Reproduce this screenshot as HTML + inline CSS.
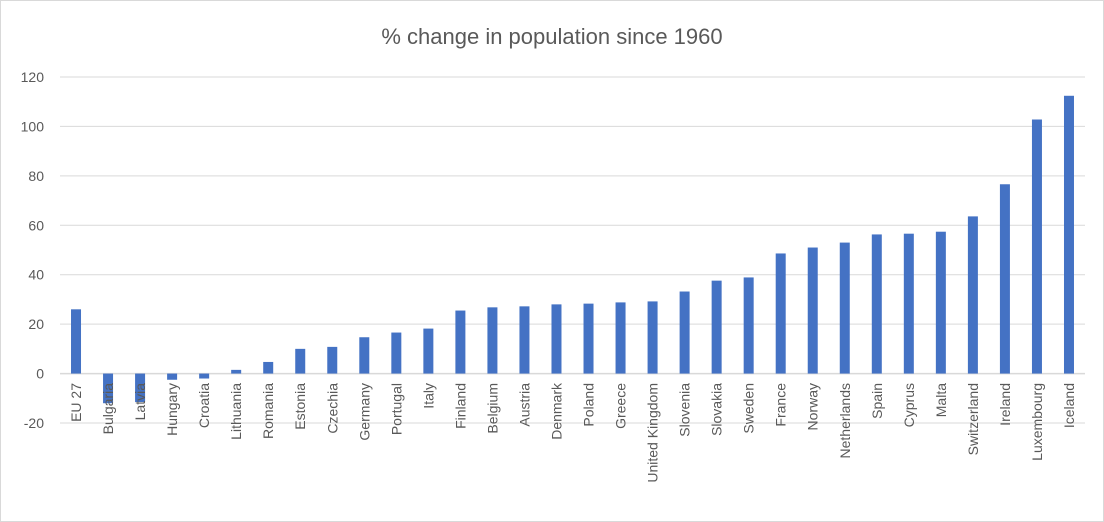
<!DOCTYPE html>
<html><head><meta charset="utf-8"><style>
body{margin:0;background:#fff}
svg{display:block;font-family:"Liberation Sans",sans-serif}
</style></head><body>
<svg id="c" width="1104" height="522">
<rect x="0.5" y="0.5" width="1103" height="521" fill="#fff" stroke="#d9d9d9"/>
<text x="552" y="44" text-anchor="middle" font-size="22" fill="#595959">% change in population since 1960</text>
<g id="grid"></g><g id="bars"></g><g id="labels"></g>
</svg>
<script>
const categories=["EU 27","Bulgaria","Latvia","Hungary","Croatia","Lithuania","Romania","Estonia","Czechia","Germany","Portugal","Italy","Finland","Belgium","Austria","Denmark","Poland","Greece","United Kingdom","Slovenia","Slovakia","Sweden","France","Norway","Netherlands","Spain","Cyprus","Malta","Switzerland","Ireland","Luxembourg","Iceland"];
const values=[26,-12,-11.5,-2.5,-2,1.5,4.7,10,10.8,14.7,16.6,18.2,25.5,26.8,27.2,28,28.3,28.8,29.2,33.2,37.6,38.9,48.6,51,53,56.3,56.6,57.4,63.6,76.6,102.8,112.4];
const ticks=[-20,0,20,40,60,80,100,120];
const NS="http://www.w3.org/2000/svg";
const x0=60,x1=1085,yTop=77,yBot=423,vMin=-20,vMax=120;
const y=v=>yBot-(v-vMin)/(vMax-vMin)*(yBot-yTop);
const band=(x1-x0)/categories.length;
const xc=i=>x0+band*(i+0.5);
function mk(t,a,p){const e=document.createElementNS(NS,t);for(const k in a)e.setAttribute(k,a[k]);p.appendChild(e);return e;}
const g=document.getElementById('grid'),b=document.getElementById('bars'),l=document.getElementById('labels');
ticks.forEach(t=>{
 const ln=mk('line',{x1:x0,x2:x1,y1:y(t),y2:y(t),stroke:t===0?'#d9d9d9':'#d9d9d9','stroke-width':t===0?1.5:1},g);
 
 
 const tx=mk('text',{x:44,y:y(t)+5,'text-anchor':'end','font-size':14,fill:'#595959'},g);
 tx.textContent=t;
 
 
});
categories.forEach((c,i)=>{
 const v=values[i];
 const r=mk('rect',{x:xc(i)-5,width:10,y:Math.min(y(v),y(0)),height:Math.abs(y(v)-y(0)),fill:'#4472c4'},b);
 
 
 const t=mk('text',{x:0,y:0,'text-anchor':'end','font-size':14,fill:'#595959',transform:`translate(${xc(i)+5},383) rotate(-90)`},l);
 t.textContent=c;
 
 
});
</script>
</body></html>
